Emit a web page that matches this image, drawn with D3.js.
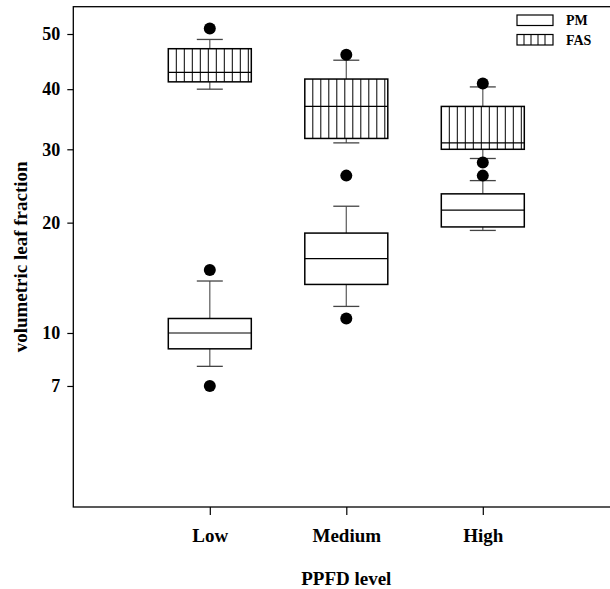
<!DOCTYPE html>
<html>
<head>
<meta charset="utf-8">
<script src="https://cdn.jsdelivr.net/npm/d3@7"></script>
<style>
    body { margin: 0; background: #ffffff; }
    text { font-family: "Liberation Serif", "Times New Roman", serif; font-weight: bold; }
</style>
</head>
<body>
<script>
// categories on the x axis
let categories = ["Low", "Medium", "High"];

// box statistics per category: [lower whisker, q1, median, q3, upper whisker]
let pmStats = [[8.0, 9.0, 10.0, 11.0, 14.0],
               [11.9, 13.7, 16.1, 18.8, 22.0],
               [19.1, 19.5, 21.5, 23.6, 25.4]];
let fasStats = [[40.0, 41.3, 43.0, 47.3, 49.0],
                [31.0, 31.7, 37.0, 41.8, 45.2],
                [28.6, 30.0, 31.0, 37.0, 40.4]];

// outliers per category
let pmOutliers = [[15.0, 7.0], [26.1, 11.0], [26.1]];
let fasOutliers = [[51.0], [46.2], [41.0, 28.0]];

// y tick labels (percent)
let yTicks = [7, 10, 20, 30, 40, 50];
let yDomain = [3, 55];

let series = [
    {name: "PM", stats: pmStats, outliers: pmOutliers, hatch: false},
    {name: "FAS", stats: fasStats, outliers: fasOutliers, hatch: true}
];

window.onload = function() {
    main();
};

function logit(v) {
    let p = v / 100;
    return Math.log(p / (1 - p));
}

function main() {
    let w = 610, h = 589;
    let margins = {left: 73.3, top: 6.7, bottom: 82, right: 0};
    let plotBottom = h - margins.bottom;

    let svg = d3.select("body")
                .append("svg")
                .attr("width", w)
                .attr("height", h);

    // x positions: categories at 1, 2, 3 of a 0..4 axis
    let x = d3.scaleLinear()
              .domain([0, 4])
              .range([margins.left, margins.left + 4 * 136.5]);

    // logit (probability) scale for the fraction
    let yLin = d3.scaleLinear()
                 .domain([logit(yDomain[0]), logit(yDomain[1])])
                 .range([plotBottom, margins.top]);
    let y = function(v) { return yLin(logit(v)); };

    // frame
    svg.append("rect")
       .attr("x", x(0))
       .attr("y", margins.top)
       .attr("width", x(4) - x(0))
       .attr("height", plotBottom - margins.top)
       .attr("fill", "none")
       .attr("stroke", "#000")
       .attr("stroke-width", 1.3);

    // y axis
    let yAxis = d3.axisLeft(yLin)
                  .tickValues(yTicks.map(logit))
                  .tickFormat(function(d, i) { return yTicks[i]; })
                  .tickSize(6)
                  .tickPadding(7);
    let gy = svg.append("g")
                .attr("transform", "translate(" + x(0) + ",0)")
                .call(yAxis);
    gy.select(".domain").remove();
    gy.selectAll("text").attr("font-size", 18).attr("font-family", null);
    gy.selectAll("line").attr("stroke-width", 1.2);

    // x axis
    let xAxis = d3.axisBottom(x)
                  .tickValues([1, 2, 3])
                  .tickFormat(function(d) { return categories[d - 1]; })
                  .tickSize(8)
                  .tickPadding(14);
    let gx = svg.append("g")
                .attr("transform", "translate(0," + plotBottom + ")")
                .call(xAxis);
    gx.select(".domain").remove();
    gx.selectAll("text").attr("font-size", 19).attr("font-family", null);
    gx.selectAll("line").attr("stroke-width", 1.2);

    // axis titles
    svg.append("text")
       .attr("transform", "translate(27," + (margins.top + plotBottom) / 2 + ") rotate(-90)")
       .attr("text-anchor", "middle")
       .attr("font-size", 19)
       .text("volumetric leaf fraction");

    svg.append("text")
       .attr("x", x(2))
       .attr("y", 585)
       .attr("text-anchor", "middle")
       .attr("font-size", 19)
       .text("PPFD level");

    // boxes
    let boxW = 83, capW = 26;
    series.forEach(function(s) {
        let g = svg.append("g");
        s.stats.forEach(function(st, i) {
            let cx = x(i + 1);
            let x0 = cx - boxW / 2, x1 = cx + boxW / 2;

            // whiskers
            [[st[0], st[1]], [st[3], st[4]]].forEach(function(seg) {
                g.append("line")
                 .attr("x1", cx).attr("x2", cx)
                 .attr("y1", y(seg[0])).attr("y2", y(seg[1]))
                 .attr("stroke", "#666").attr("stroke-width", 1.3);
            });
            [st[0], st[4]].forEach(function(v) {
                g.append("line")
                 .attr("x1", cx - capW / 2).attr("x2", cx + capW / 2)
                 .attr("y1", y(v)).attr("y2", y(v))
                 .attr("stroke", "#444").attr("stroke-width", 1.3);
            });

            // box
            g.append("rect")
             .attr("x", x0)
             .attr("y", y(st[3]))
             .attr("width", boxW)
             .attr("height", y(st[1]) - y(st[3]))
             .attr("fill", "#fff")
             .attr("stroke", "#000")
             .attr("stroke-width", 1.5);

            if (s.hatch) {
                d3.range(x0 + 8, x1 - 2, 8).forEach(function(hx) {
                    g.append("line")
                     .attr("x1", hx).attr("x2", hx)
                     .attr("y1", y(st[3])).attr("y2", y(st[1]))
                     .attr("stroke", "#000").attr("stroke-width", 1);
                });
            }

            // median
            g.append("line")
             .attr("x1", x0).attr("x2", x1)
             .attr("y1", y(st[2])).attr("y2", y(st[2]))
             .attr("stroke", "#000").attr("stroke-width", 1.2);

            // outliers
            s.outliers[i].forEach(function(v) {
                g.append("circle")
                 .attr("cx", cx)
                 .attr("cy", y(v))
                 .attr("r", 6)
                 .attr("fill", "#000");
            });
        });
    });

    // legend
    let legend = svg.append("g");
    series.forEach(function(s, i) {
        let ly = 15 + i * 19.5;
        legend.append("rect")
              .attr("x", 517).attr("y", ly)
              .attr("width", 36).attr("height", 10.5)
              .attr("fill", "#fff")
              .attr("stroke", "#000").attr("stroke-width", 1.2);
        if (s.hatch) {
            d3.range(517 + 7, 553 - 2, 7).forEach(function(hx) {
                legend.append("line")
                      .attr("x1", hx).attr("x2", hx)
                      .attr("y1", ly).attr("y2", ly + 10.5)
                      .attr("stroke", "#000").attr("stroke-width", 1);
            });
        }
        legend.append("text")
              .attr("x", 566)
              .attr("y", ly + 10)
              .attr("font-size", 14)
              .text(s.name);
    });
}
</script>
</body>
</html>
